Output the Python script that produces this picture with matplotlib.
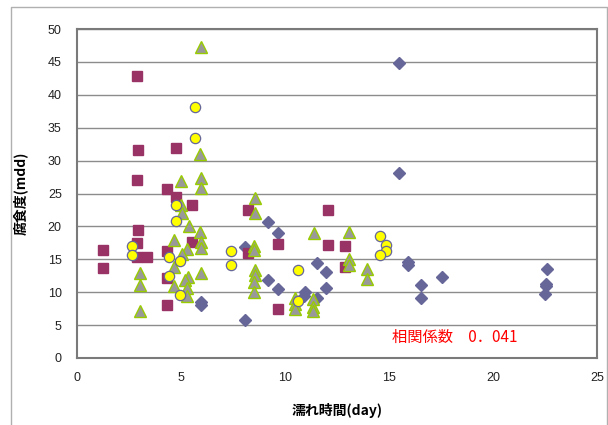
import matplotlib
matplotlib.use("Agg")
import matplotlib.pyplot as plt
from matplotlib.lines import Line2D

# Wetting time (day) vs corrosion rate (mdd), four measurement groups
diamond_x = [5.95, 5.95, 8.06, 8.06, 9.19, 9.19, 9.65, 9.65, 10.98, 10.9, 11.54, 11.54,
             11.96, 11.96, 15.48, 15.48, 15.91, 15.91, 16.52, 16.52, 17.56,
             22.58, 22.54, 22.54, 22.5]
diamond_y = [8.5, 8.1, 16.9, 5.7, 20.6, 11.9, 19.0, 10.5, 10.0, 9.4, 14.4, 9.1,
             13.1, 10.7, 44.9, 28.1, 14.6, 14.2, 11.1, 9.1, 12.3,
             13.5, 11.3, 10.9, 9.8]

square_x = [2.9, 2.95, 4.74, 2.9, 4.32, 4.74, 5.52, 2.95, 5.52, 2.87, 1.27, 4.32,
            2.87, 3.35, 1.27, 4.32, 4.32, 8.2, 12.07, 9.67, 12.07, 12.87, 8.2,
            12.87, 9.67]
square_y = [42.8, 31.6, 31.9, 27.1, 25.7, 24.5, 23.2, 19.5, 17.6, 17.5, 16.4, 16.3,
            15.3, 15.3, 13.7, 12.1, 8.1, 22.5, 22.5, 17.3, 17.2, 17.0, 16.0,
            13.9, 7.4]

triangle_x = [5.95, 5.92, 5.02, 5.95, 5.95, 5.0, 5.04, 5.38, 5.9, 5.95, 5.95, 4.67,
              5.3, 5.04, 4.65, 3.03, 5.94, 5.36, 5.2, 3.03, 4.65, 5.28, 5.28, 3.03,
              8.54, 8.54, 11.39, 13.07, 8.49, 8.52, 13.07, 13.07, 13.93, 13.93,
              8.54, 8.54, 8.5, 8.5, 11.37, 11.37, 11.37, 10.5, 10.5, 10.5]
triangle_y = [47.2, 31.0, 26.9, 27.4, 25.9, 23.3, 22.1, 20.0, 19.2, 17.7, 16.7, 17.9,
              16.5, 15.8, 13.9, 12.9, 12.9, 12.3, 11.9, 11.1, 10.9, 10.6, 9.4, 7.2,
              24.3, 22.1, 19.0, 19.1, 17.0, 16.4, 15.0, 14.1, 13.5, 12.0,
              13.4, 12.6, 11.6, 10.0, 9.0, 7.7, 7.1, 9.1, 8.2, 7.4]

circle_x = [5.68, 5.68, 4.74, 4.74, 2.63, 2.63, 4.4, 4.93, 4.4, 4.93, 7.4, 7.4,
            10.61, 10.61, 14.56, 14.84, 14.84, 14.56]
circle_y = [38.1, 33.4, 23.3, 20.8, 17.0, 15.6, 15.3, 14.8, 12.4, 9.6, 16.2, 14.2,
            13.4, 8.7, 18.5, 17.1, 16.3, 15.7]

x_ticks = [0, 5, 10, 15, 20, 25]
y_ticks = [0, 5, 10, 15, 20, 25, 30, 35, 40, 45, 50]
corr_label = "相関係数　0．041"

jp = ["Noto Sans CJK JP", "DejaVu Sans"]

fig = plt.figure(figsize=(6.08, 4.25), dpi=100, facecolor="white")
ax = fig.add_axes([77 / 608, 1 - 358 / 425, (597 - 77) / 608, (358 - 29) / 425])

# chart area outline
fig.add_artist(Line2D([11 / 608, 11 / 608, 606.5 / 608, 606.5 / 608],
                      [0, 1 - 7 / 425, 1 - 7 / 425, 0],
                      transform=fig.transFigure, color="#b0b0b0", lw=1.0))

ax.set_xlim(0, 25)
ax.set_ylim(0, 50)
ax.set_xticks(x_ticks)
ax.set_yticks(y_ticks)
ax.grid(axis="y", color="#8c8c8c", lw=1.0)
ax.set_axisbelow(True)
for s in ax.spines.values():
    s.set_color("#7a7a7a")
    s.set_linewidth(1.5)
ax.tick_params(length=0, labelsize=9, pad=10, colors="#222222")
ax.tick_params(axis="y", pad=11)
for lab in ax.get_xticklabels() + ax.get_yticklabels():
    lab.set_family("Liberation Sans")

ax.plot(diamond_x, diamond_y, ls="none", marker="D", ms=6.4,
        mfc="#666699", mec="#666699", zorder=3)
ax.plot(square_x, square_y, ls="none", marker="s", ms=7.9,
        mfc="#993366", mec="#993366", zorder=4)
ax.plot(triangle_x, triangle_y, ls="none", marker="^", ms=8.8,
        mfc="#999999", mec="#99cc00", mew=1.0, zorder=5)
ax.plot(circle_x, circle_y, ls="none", marker="o", ms=7.4,
        mfc="#ffff00", mec="#666699", mew=0.9, zorder=6)

ax.text(15.15, 3.2, corr_label, color="#ff0000", fontsize=11,
        family=jp, va="center", ha="left")

ax.set_xlabel("濡れ時間(day)", family=jp, fontsize=10, fontweight="bold", labelpad=14)
ax.set_ylabel("腐食度(mdd)", family=jp, fontsize=10, fontweight="bold", labelpad=14)

fig.savefig("out.png", dpi=100, facecolor="white")
